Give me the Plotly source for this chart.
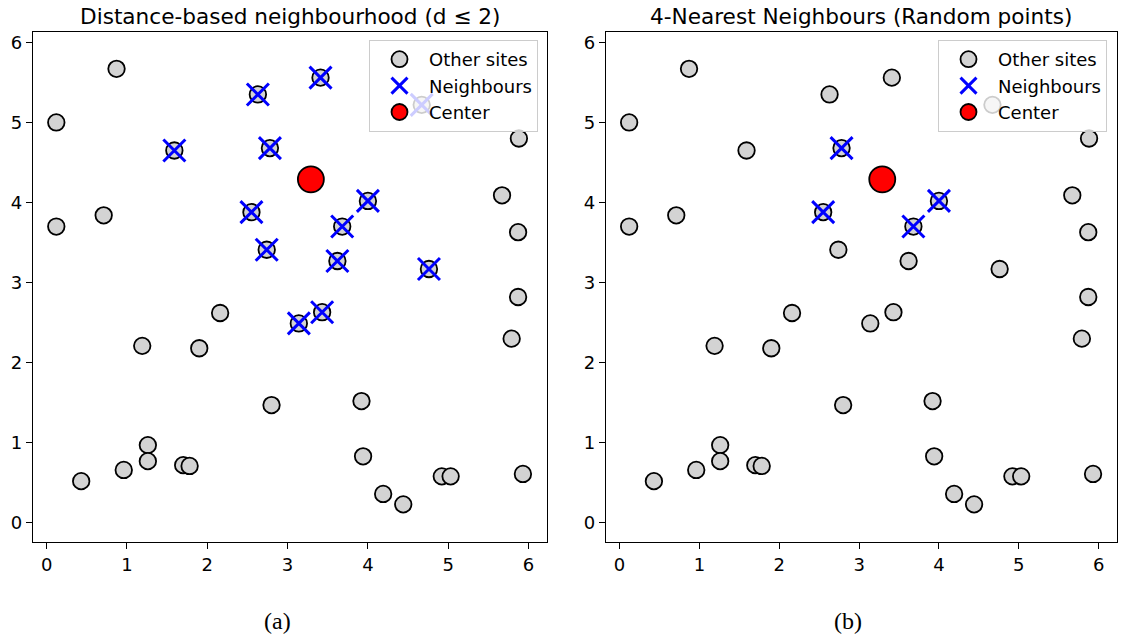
import plotly.graph_objects as go

# ---- data ----
site_x = [0.87, 0.12, 0.12, 0.71, 1.59, 2.63, 3.41, 2.78, 4.67, 5.88,
          5.67, 5.87, 2.55, 4.00, 3.68, 2.74, 3.62, 4.76, 5.87, 2.16,
          3.14, 3.43, 1.19, 1.90, 5.79, 2.80, 3.92, 1.26, 1.26, 0.96,
          0.43, 1.70, 1.78, 3.94, 4.19, 4.44, 4.92, 5.03, 5.93]
site_y = [5.67, 5.00, 3.70, 3.84, 4.65, 5.35, 5.56, 4.68, 5.22, 4.80,
          4.09, 3.63, 3.88, 4.02, 3.70, 3.41, 3.27, 3.17, 2.82, 2.62,
          2.49, 2.63, 2.21, 2.18, 2.30, 1.47, 1.52, 0.97, 0.77, 0.66,
          0.52, 0.72, 0.71, 0.83, 0.36, 0.23, 0.58, 0.58, 0.61]
center_x = [3.29]
center_y = [4.29]
# indices of neighbours in each panel
neigh_a = [4, 5, 6, 7, 8, 12, 13, 14, 15, 16, 17, 20, 21]   # distance <= 2
neigh_b = [7, 12, 13, 14]                                   # 4 nearest

titles = ["Distance-based neighbourhood (d \u2264 2)", "4-Nearest Neighbours (Random points)"]
sublabels = ["(a)", "(b)"]
ticks = [0, 1, 2, 3, 4, 5, 6]

W, H = 1124, 641
fig = go.Figure()

FONT = "DejaVu Sans"
panels = [
    dict(xa="x", ya="y", dom=(33, 547), legend="legend", neigh=neigh_a, lab_x=277, title_x=290,
         leg_right=538),
    dict(xa="x2", ya="y2", dom=(606, 1117), legend="legend2", neigh=neigh_b, lab_x=848, title_x=861,
         leg_right=1107),
]

for i, p in enumerate(panels):
    fig.add_trace(go.Scatter(
        x=site_x, y=site_y, mode="markers", name="Other sites",
        xaxis=p["xa"], yaxis=p["ya"], legend=p["legend"],
        marker=dict(size=16.5, color="#d3d3d3", line=dict(color="black", width=1.8)),
    ))
    nx = [site_x[k] for k in p["neigh"]]
    ny = [site_y[k] for k in p["neigh"]]
    fig.add_trace(go.Scatter(
        x=nx, y=ny, mode="markers", name="Neighbours",
        xaxis=p["xa"], yaxis=p["ya"], legend=p["legend"],
        marker=dict(symbol="x-thin", size=22, color="blue", line=dict(color="blue", width=3)),
    ))
    fig.add_trace(go.Scatter(
        x=center_x, y=center_y, mode="markers", name="Center",
        xaxis=p["xa"], yaxis=p["ya"], legend=p["legend"],
        marker=dict(size=26, color="red", line=dict(color="black", width=1.8)),
    ))

axis_common = dict(
    showline=True, linecolor="black", linewidth=1.4, mirror=True,
    ticks="outside", ticklen=6, tickwidth=1.4, tickcolor="black",
    showgrid=False, zeroline=False,
    tickfont=dict(family=FONT, size=18, color="black"),
    tickvals=ticks, ticktext=[str(t) for t in ticks],
)
ydom = (1 - 542 / H, 1 - 32 / H)

layout = dict(
    width=W, height=H,
    margin=dict(l=0, r=0, t=0, b=0),
    paper_bgcolor="white", plot_bgcolor="white",
    font=dict(family=FONT, color="black"),
    showlegend=True,
)
for i, p in enumerate(panels):
    suf = "" if i == 0 else "2"
    layout["xaxis" + suf] = dict(axis_common, domain=[p["dom"][0] / W, p["dom"][1] / W],
                                 range=[-0.17, 6.23], anchor="y" + suf)
    layout["yaxis" + suf] = dict(axis_common, domain=list(ydom),
                                 range=[-0.24, 6.13], anchor="x" + suf)
    layout["legend" + suf] = dict(
        x=p["leg_right"] / W, xanchor="right", y=1 - 40 / H, yanchor="top",
        bgcolor="rgba(255,255,255,0.8)", bordercolor="#cccccc", borderwidth=1,
        itemwidth=49,
        font=dict(family=FONT, size=18, color="black"),
    )
fig.update_layout(**layout)

for i, p in enumerate(panels):
    fig.add_annotation(text=titles[i], xref="paper", yref="paper",
                       x=p["title_x"] / W, y=1 - 16 / H, xanchor="center", yanchor="middle",
                       showarrow=False, font=dict(family=FONT, size=21.6, color="black"))
    fig.add_annotation(text=sublabels[i], xref="paper", yref="paper",
                       x=p["lab_x"] / W, y=1 - 621 / H, xanchor="center", yanchor="middle",
                       showarrow=False, font=dict(family="Liberation Serif", size=24, color="black"))

fig.write_html("out.html")
